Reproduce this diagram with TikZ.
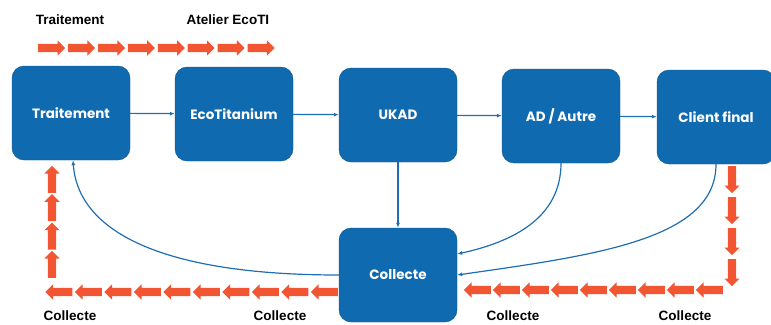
\documentclass[tikz,border=0pt]{standalone}
\usepackage{fontspec}
\setmainfont{Liberation Sans}
\newfontfamily\boxfont{Poppins}
\usetikzlibrary{arrows.meta,shapes.arrows}
\definecolor{boxblue}{RGB}{15,106,176}
\definecolor{lineblue}{RGB}{30,110,180}
\definecolor{flow}{RGB}{242,85,50}
\begin{document}
\begin{tikzpicture}[
    x = 1pt, y = -1pt,
    stage/.style = {draw = boxblue!80!black, fill = boxblue, rounded corners = 12pt,
        minimum width = 118pt, minimum height = 94pt, text = white,
        font = \boxfont\bfseries\fontsize{13.5}{15}\selectfont},
    link/.style = {draw = lineblue, line width = 1.2pt, -{Latex[length=5pt,width=4pt]}},
    flowarr/.style = {single arrow, fill = flow, draw = none, inner sep = 4pt,
        minimum height = 27pt, minimum width = 15pt,
        single arrow head extend = 3.5pt, anchor = tail},
    tag/.style = {font = \bfseries\fontsize{13.5}{15}\selectfont}]

\useasboundingbox (0,0) rectangle (771,324);

\node[stage] (tra) at (71,113) {Traitement};
\node[stage] (eco) at (234,114) {EcoTitanium};
\node[stage] (ukad) at (398,115) {UKAD};
\node[stage] (ad) at (561,116) {AD / Autre};
\node[stage] (cli) at (716,117) {Client final};
\node[stage] (col) at (398,275) {Collecte};

\draw[link] (tra) -- (eco);
\draw[link] (eco) -- (ukad);
\draw[link] (ukad) -- (ad);
\draw[link] (ad) -- (cli);
\draw[link] (ukad) -- (col);
\draw[link] (ad.south) .. controls +(0,55) and +(55,-12) .. ([yshift=21pt]col.east);
\draw[link] (cli.south) .. controls +(0,75) and +(140,-20) .. (col.east);
\draw[link] (col.west) .. controls +(-180,0) and +(5,70) .. ([xshift=2pt]tra.south);

% fleches orange
\foreach \i in {0,...,7}
  \node[flowarr] (top\i) at (38+\i*29.9,48) {};
\foreach \i in {0,...,3}
  \node[flowarr, shape border rotate = 90] (up\i) at (52,278-\i*28.3) {};
\foreach \i in {0,...,9}
  \node[flowarr, shape border rotate = 180] (bl\i) at (338-\i*29.5,292) {};
\foreach \i in {0,...,3}
  \node[flowarr, shape border rotate = 270] (dn\i) at (732,166+\i*31) {};
\foreach \i in {0,...,8}
  \node[flowarr, shape border rotate = 180] (br\i) at (723-\i*29,290) {};

\node[tag] (t1) at (70,20) {Traitement};
\node[tag] (t2) at (228,20) {Atelier EcoTI};
\node[tag] (c1) at (70,316) {Collecte};
\node[tag] (c2) at (280,316) {Collecte};
\node[tag] (c3) at (513,316) {Collecte};
\node[tag] (c4) at (685,316) {Collecte};
\end{tikzpicture}
\end{document}
